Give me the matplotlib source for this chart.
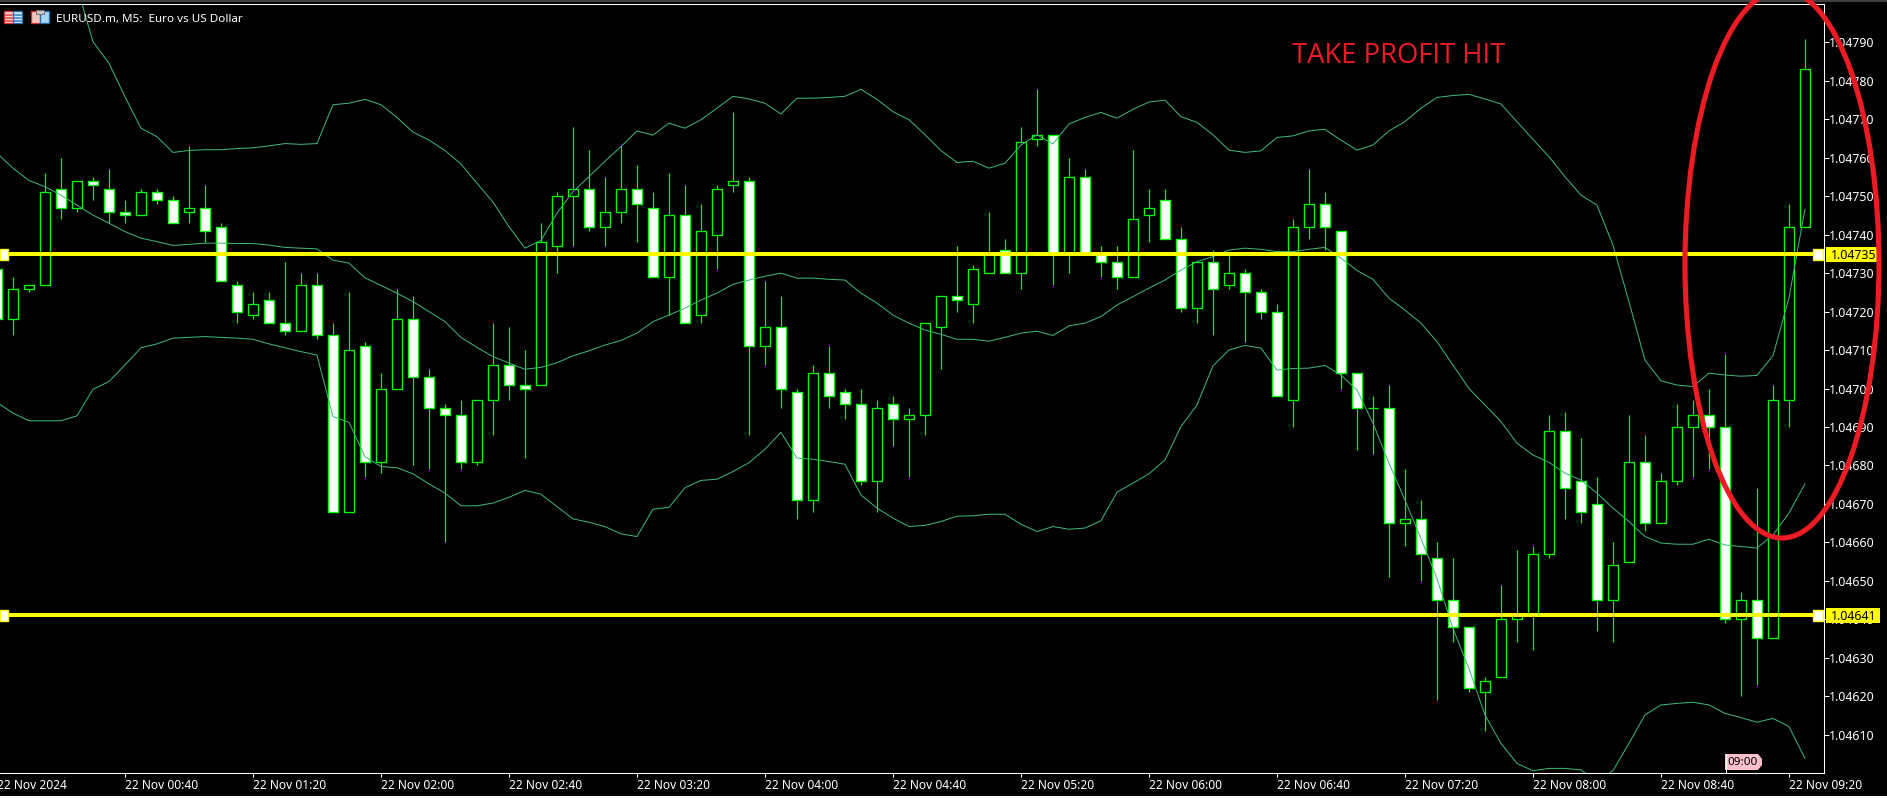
import matplotlib
matplotlib.use("Agg")
import matplotlib.pyplot as plt
import numpy as np
from matplotlib.patches import Ellipse, Rectangle, Polygon

W, H, DPI = 1887, 809, 100
# prices are stored as points above 1.04000
opens = [731,718,726,727,752,747,754,752,746,745,751,749,746,747,742,727,719,723,717,715,727,714,668,711,681,700,718,703,695,693,681,697,706,701,701,737,750,752,742,746,752,747,729,745,719,740,753,754,711,716,699,671,704,699,696,676,696,692,693,716,724,722,730,736,730,765,766,735,755,735,733,729,745,749,739,721,733,727,730,725,720,697,742,748,741,704,695,695,665,666,656,645,638,621,625,640,641,657,689,676,670,645,655,681,665,676,690,693,690,640,645,635,697,742]
closes = [718,726,727,751,747,754,753,746,745,751,749,743,747,741,728,720,722,717,715,727,714,668,710,681,700,718,703,695,693,681,697,706,701,700,738,750,752,742,746,752,748,729,745,717,741,752,754,711,716,700,671,704,698,696,676,695,692,693,717,724,723,731,735,730,764,766,735,755,735,733,729,744,747,739,721,733,726,730,725,720,698,742,748,742,704,695,695,665,666,657,645,638,622,624,640,641,657,689,674,668,645,654,681,665,676,690,693,690,640,645,635,697,742,783]
highs = [735,729,727,756,760,754,755,757,749,752,752,750,763,753,743,728,725,725,733,730,730,717,725,712,704,726,724,705,696,697,697,717,716,710,743,751,768,762,755,763,758,751,756,753,748,753,772,755,728,724,700,706,711,700,700,697,698,695,717,724,737,732,746,739,768,778,766,760,757,737,737,762,752,752,742,733,736,735,731,726,722,744,757,751,741,704,698,701,679,671,660,656,638,625,649,658,659,693,694,687,677,660,693,688,678,696,697,700,709,647,674,701,748,791]
lows = [715,714,725,727,744,746,749,743,743,745,748,743,743,738,728,717,718,717,714,715,713,668,668,677,678,700,680,679,660,679,680,688,697,682,701,730,737,741,737,743,738,729,719,717,717,731,751,688,706,695,666,668,695,692,675,668,685,677,688,705,720,717,730,730,726,763,727,730,735,729,726,729,738,739,720,717,714,726,712,718,698,690,739,736,700,684,683,651,659,650,619,634,621,611,625,634,632,656,666,665,637,634,655,663,665,675,677,679,639,620,623,635,690,742]
band_upper = [np.nan,np.nan,np.nan,np.nan,np.nan,804.5,790.2,784.6,775.9,767.7,765.5,761.4,761.9,762.1,762.1,762.4,762.6,763.1,763.7,763.5,763.7,773.8,774.2,775.2,773.8,770.5,766.7,764.6,761.9,758.4,753.4,748.5,742.1,736.5,738.5,745.6,751.2,755.1,759.1,762.9,767,765.9,769,767.7,769.9,772.9,776,775.3,774.2,771.4,775.5,775.5,775.7,776,777.8,775.2,772,769.9,766,761.9,758.8,759.1,757.3,758.6,763.3,766,763.6,768.8,770.5,771.8,770.3,772.6,774.5,775,770.7,769.2,766,762,761.4,761.8,765.3,765.7,767,767.4,764.6,762,763.3,767,769.4,772.9,775.7,776.2,776.5,775.3,774,769.4,764.8,760.3,755.1,750.3,747.7,737.3,722.6,707.4,702,700.9,700.5,704,703.5,703.2,703.4,708.5,723.5,746.6]
band_mid = [761.2,757.3,754.1,752.5,750.3,747.7,745.1,743,740.8,739.1,738.2,737.2,737.5,737.8,737.8,737.7,737.7,737.3,736.7,736.5,736.3,733.4,732.6,728.8,726.8,724.8,722.6,720,717.4,713.3,710.7,708.3,706.6,705,705.5,706.7,708.5,709.8,711.3,712.5,714.4,717.4,719.1,720.9,723,724.8,727.1,728.2,729.2,730,728.7,728.7,728.4,728.2,724.8,722.2,719.1,717,715.2,714.1,712.8,712.8,712.3,713.3,714.4,714.9,713.8,716.3,717,718.7,721.7,723.9,726.1,728.2,730.8,733,734.3,736,736.5,736.2,735.6,735.6,736.2,736.7,733.9,730.7,728.4,723.5,720.4,717,712.2,706.1,700,695.7,691.4,685.8,682.7,680.8,678,676.2,672.8,668.9,665.4,661.5,659.8,659.5,659.5,660.8,659.3,658.9,658.5,661.9,667.6,675.2]
band_lower = [696.4,693.6,691.6,691.6,691.6,692.9,699.8,701.8,706.1,710.6,711.6,713.1,713.3,713.5,713.3,713.1,712.8,711.6,710.6,709.6,708.7,692.7,691.2,682.3,679.7,679.4,677.8,675.2,672.8,669.5,669.5,670.2,671.7,673.5,672.5,669.3,666.1,665.2,664.1,662.2,661.5,668.6,669.1,674.2,676.1,676.4,678.4,680.7,684.2,688.6,681.9,681.6,681,680.3,672.3,668.9,666.3,664.1,664.4,665.4,666.8,666.9,667.3,667.3,664.7,662.8,664.1,663.4,663.7,665.6,673,675.4,677.8,681.4,690.1,695.7,705.9,710,711.2,710.5,704.8,705.2,705.3,706,703.5,699.6,691,680.6,671,661,650.6,637.6,627.2,615.1,607.7,602.5,600.6,601.2,601.2,600.8,597.8,600.6,607.7,615.1,617.7,618.1,618.4,617.7,615.5,614.4,613.2,614.2,612.1,603.8]
price_ticks = [610,620,630,640,650,660,670,680,690,700,710,720,730,740,750,760,770,780,790]
level_prices = [735, 641]
time_tick_pos = [0,8,16,24,32,40,48,56,64,72,80,88,96,104,112]
time_tick_labels = ["22 Nov 2024","22 Nov 00:40","22 Nov 01:20","22 Nov 02:00","22 Nov 02:40","22 Nov 03:20","22 Nov 04:00","22 Nov 04:40","22 Nov 05:20","22 Nov 06:00","22 Nov 06:40","22 Nov 07:20","22 Nov 08:00","22 Nov 08:40","22 Nov 09:20"]

def P(a):
    return 1.04 + np.asarray(a, dtype=float) / 1e5

FONT = "Noto Sans"
GREEN = "#00ff00"
BAND = "#3cb878"
YELLOW = "#ffff00"
RED = "#ed1c24"

fig = plt.figure(figsize=(W / DPI, H / DPI), dpi=DPI, facecolor="black")
ax = fig.add_axes([0, 1 - 773 / H, 1823.5 / W, (773 - 4) / H], facecolor="black")

n = len(opens)
idx = np.arange(n)
o, c, h, l = map(np.asarray, (opens, closes, highs, lows))
up = c >= o

ax.vlines(idx, P(l), P(h), color=GREEN, lw=0.85, zorder=2)
ax.bar(idx[up], P(c[up]) - P(o[up]), bottom=P(o[up]), width=0.63, facecolor="black",
       edgecolor=GREEN, linewidth=0.95, zorder=3)
ax.bar(idx[~up], P(o[~up]) - P(c[~up]), bottom=P(c[~up]), width=0.63, facecolor="white",
       edgecolor=GREEN, linewidth=0.95, zorder=3)

for band in (band_upper, band_mid, band_lower):
    ax.plot(idx, P(band), color=BAND, lw=0.72, zorder=4)

for lv in level_prices:
    ax.axhline(P(lv), color=YELLOW, lw=2.88, zorder=5)

ax.spines["left"].set_visible(False)
for s in ("right", "bottom", "top"):
    ax.spines[s].set_color("white")
    ax.spines[s].set_linewidth(0.75)

ax.yaxis.tick_right()
ax.set_yticks(P(price_ticks))
ax.set_yticklabels([f"{p:.5f}" for p in P(price_ticks)], fontsize=8.9, family=FONT, color="white")
ax.tick_params(axis="y", length=3.6, width=0.75, color="white", pad=0.6)
ax.set_xticks(time_tick_pos[1:])
ax.set_xticklabels(time_tick_labels[1:], fontsize=8.6, family=FONT, color="white", ha="left")
ax.tick_params(axis="x", length=3, width=0.75, color="white", pad=1.4)
# limits come after the ticks, since set_xticks widens the view
ax.set_xlim(0.19, 114.16)
ax.set_ylim(P(600), P(800))
# the first label's candle lies just off the left edge, so it has no visible tick
ax.text(time_tick_pos[0], -6.2 / 769, time_tick_labels[0], transform=ax.get_xaxis_transform(),
        fontsize=8.6, family=FONT, color="white", ha="left", va="top", clip_on=False)

ov = fig.add_axes([0, 0, 1, 1], facecolor="none")
ov.set_xlim(0, W)
ov.set_ylim(H, 0)
ov.axis("off")
ov.add_patch(Rectangle((0, 796), W, 13, fc="white", ec="none"))
ov.add_patch(Rectangle((0, 0), W, 2, fc="#404040", ec="none"))

for lv, yp, tag_r in ((735, 254.3, 1877), (641, 615.4, 1880)):
    ov.add_patch(Rectangle((-0.5, yp - 5), 8.5, 10.5, fc="white", ec=YELLOW, lw=1.0, zorder=6))
    ov.add_patch(Rectangle((1812.5, yp - 5), 10.5, 10.5, fc="white", ec=YELLOW, lw=1.0, zorder=6))
    ov.add_patch(Rectangle((1826, yp - 7), tag_r - 1826, 15, fc=YELLOW, ec="none", zorder=6))
    ov.text(1831, yp + 0.7, f"{float(P(lv)):.5f}", color="black", fontsize=8.9, family=FONT,
            va="center", ha="left", zorder=7)

ov.add_patch(Polygon([(1725, 754), (1758, 754), (1762, 759), (1762, 765), (1758, 770), (1725, 770)],
                     fc="#ffc0cb", ec="none", zorder=6))
ov.plot([1725.5, 1725.5], [754, 773], color="white", lw=0.75, zorder=6)
ov.text(1727.5, 762.5, "09:00", color="black", fontsize=8.4, family=FONT, va="center", ha="left", zorder=7)

ov.text(56, 19, "EURUSD.m, M5:  Euro vs US Dollar", color="white", fontsize=8.4, family=FONT,
        va="center", ha="left", zorder=7)
ov.add_patch(Rectangle((3.5, 10.5), 9, 12.5, fc="#f6d5d0", ec="#d83030", lw=0.9, zorder=6))
ov.add_patch(Rectangle((12.5, 10.5), 9, 12.5, fc="#d6e6f2", ec="#1f70a8", lw=0.9, zorder=6))
for yy in (14.5, 18, 21):
    ov.plot([5, 12], [yy, yy], color="#e04040", lw=1.1, zorder=7)
    ov.plot([13.5, 20.5], [yy, yy], color="#2a80c0", lw=1.1, zorder=7)
ov.add_patch(Rectangle((30.5, 11), 9, 12, fc="#f8c8c0", ec="#d83030", lw=0.9, zorder=6))
ov.add_patch(Rectangle((40, 11), 8.5, 12, fc="#a8d4f0", ec="#1f70a8", lw=0.9, zorder=6))
ov.add_patch(Rectangle((35.5, 9.5), 8, 4, fc="#c8c8c8", ec="#707070", lw=0.7, zorder=7))

ov.text(1292, 55.5, "TAKE PROFIT HIT", color=RED, fontsize=19.8, family="Open Sans",
        va="center", ha="left", zorder=8)
ov.add_patch(Ellipse((1782, 264), 194, 548, fc="none", ec=RED, lw=3.7, zorder=8))

fig.savefig("out.png", dpi=DPI, facecolor="black")
